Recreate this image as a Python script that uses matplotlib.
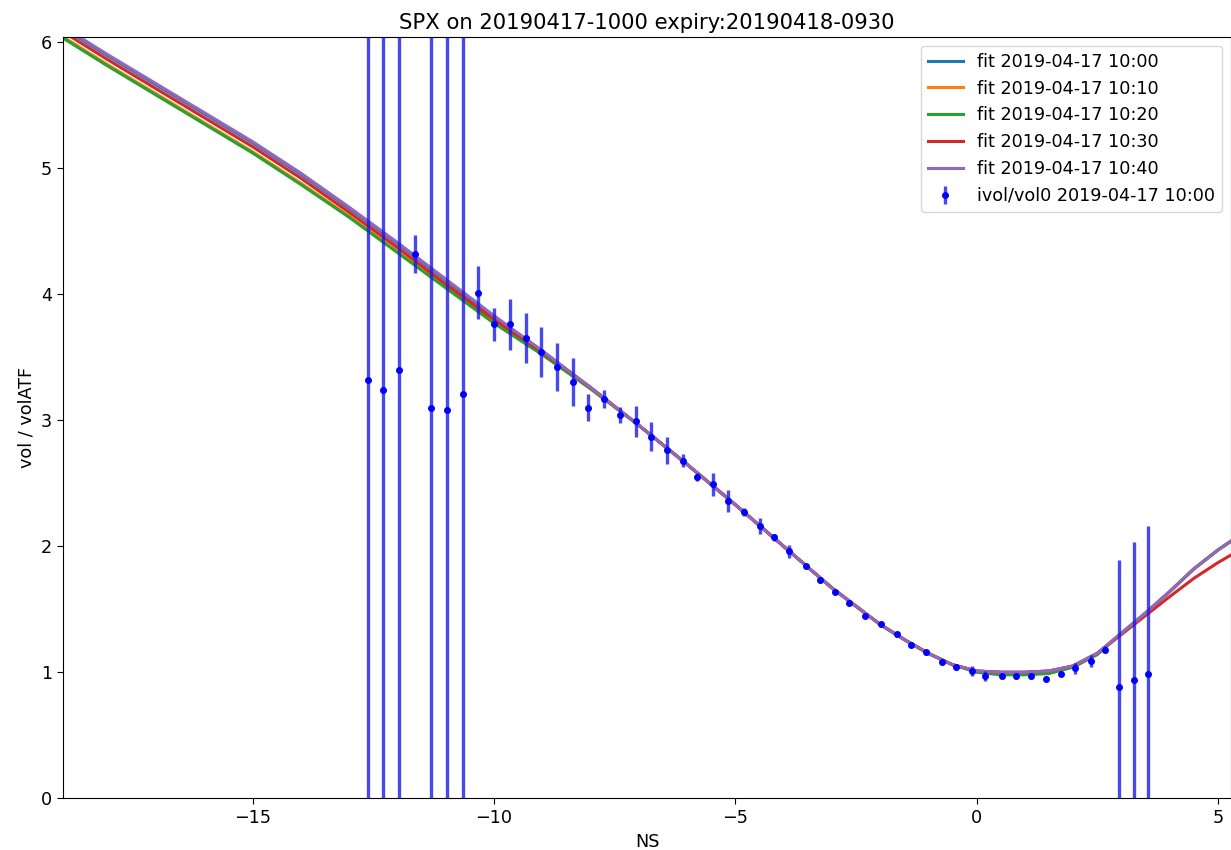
import matplotlib
matplotlib.use("Agg")
import matplotlib.pyplot as plt

# fit curves
fit_x = [-18.92, -18, -17, -16, -15, -14, -13, -12, -11, -10, -9, -8, -7, -6, -5, -4, -3, -2,
         -1.5, -1, -0.5, 0, 0.5, 1.0, 1.5, 2.0, 2.5, 3.0, 3.5, 4.0, 4.5, 5.0, 5.27]
fit_1000 = [6.11, 5.89, 5.66, 5.43, 5.20, 4.95, 4.68, 4.40, 4.11, 3.82, 3.55, 3.26, 2.96, 2.65, 2.33, 2.00, 1.67, 1.38,
            1.26, 1.15, 1.06, 1.01, 1.00, 1.00, 1.01, 1.05, 1.15, 1.31, 1.47, 1.64, 1.82, 1.97, 2.04]
fit_1010 = [6.04, 5.82, 5.59, 5.36, 5.13, 4.88, 4.62, 4.34, 4.06, 3.78, 3.53, 3.25, 2.96, 2.65, 2.33, 2.00, 1.67, 1.38,
            1.26, 1.15, 1.06, 1.01, 0.99, 0.99, 1.00, 1.05, 1.15, 1.31, 1.47, 1.64, 1.82, 1.97, 2.04]
fit_1020 = [6.03, 5.81, 5.58, 5.35, 5.12, 4.87, 4.61, 4.33, 4.05, 3.77, 3.52, 3.25, 2.96, 2.65, 2.33, 2.00, 1.67, 1.38,
            1.26, 1.15, 1.06, 1.00, 0.98, 0.98, 0.99, 1.04, 1.14, 1.31, 1.47, 1.64, 1.82, 1.97, 2.04]
fit_1030 = [6.08, 5.86, 5.63, 5.40, 5.17, 4.92, 4.65, 4.37, 4.08, 3.80, 3.54, 3.26, 2.96, 2.65, 2.33, 2.00, 1.67, 1.38,
            1.26, 1.15, 1.06, 1.01, 1.00, 1.00, 1.01, 1.05, 1.15, 1.30, 1.45, 1.60, 1.745, 1.87, 1.93]
fit_1040 = [6.12, 5.90, 5.67, 5.44, 5.21, 4.96, 4.69, 4.41, 4.12, 3.83, 3.55, 3.26, 2.96, 2.65, 2.33, 2.00, 1.67, 1.38,
            1.26, 1.15, 1.06, 1.01, 1.00, 1.00, 1.01, 1.05, 1.15, 1.31, 1.47, 1.64, 1.82, 1.97, 2.04]
fit_labels = ["fit 2019-04-17 10:00", "fit 2019-04-17 10:10", "fit 2019-04-17 10:20",
              "fit 2019-04-17 10:30", "fit 2019-04-17 10:40"]

# ivol/vol0 points with error half-widths
ns = [-12.61, -12.29, -11.97, -11.64, -11.31, -10.97, -10.64, -10.33, -10.00, -9.67,
      -9.34, -9.03, -8.69, -8.36, -8.05, -7.72, -7.39, -7.06, -6.75, -6.42,
      -6.08, -5.79, -5.46, -5.15, -4.82, -4.49, -4.20, -3.89, -3.54, -3.25,
      -2.94, -2.65, -2.31, -1.98, -1.65, -1.36, -1.05, -0.72, -0.43, -0.10,
      0.17, 0.52, 0.81, 1.12, 1.44, 1.75, 2.04, 2.37, 2.66, 2.95, 3.26, 3.55]
ivol = [3.32, 3.24, 3.40, 4.32, 3.10, 3.08, 3.21, 4.01, 3.76, 3.76,
        3.65, 3.54, 3.42, 3.30, 3.10, 3.17, 3.04, 2.99, 2.87, 2.76,
        2.68, 2.55, 2.49, 2.36, 2.27, 2.16, 2.07, 1.96, 1.84, 1.73,
        1.64, 1.55, 1.45, 1.38, 1.30, 1.22, 1.16, 1.08, 1.04, 1.01,
        0.97, 0.97, 0.97, 0.97, 0.95, 0.99, 1.03, 1.09, 1.18, 0.88, 0.94, 0.99]
ivol_err = [4.0, 4.0, 4.0, 0.15, 4.0, 4.0, 4.0, 0.21, 0.13, 0.20,
            0.20, 0.20, 0.19, 0.19, 0.11, 0.07, 0.065, 0.12, 0.115, 0.11,
            0.05, 0.03, 0.09, 0.085, 0.03, 0.06, 0.03, 0.05, 0.02, 0.02,
            0.02, 0.02, 0.02, 0.02, 0.02, 0.02, 0.02, 0.02, 0.02, 0.04,
            0.04, 0.02, 0.02, 0.02, 0.02, 0.02, 0.04, 0.05, 0.03, 1.01, 1.09, 1.17]

plt.rcParams["font.size"] = 12.7
plt.rcParams["xtick.major.size"] = 4.5
plt.rcParams["ytick.major.size"] = 4.5

fig = plt.figure(figsize=(12.31, 8.5), dpi=100)
ax = fig.add_axes([0.0514, 0.0608, 0.9486, 0.8957])

for ys, lab in zip([fit_1000, fit_1010, fit_1020, fit_1030, fit_1040], fit_labels):
    ax.plot(fit_x, ys, lw=2.2, label=lab)

ax.errorbar(ns, ivol, yerr=ivol_err, fmt=".", color="b", ecolor=(0.1, 0.1, 0.9, 0.8),
            elinewidth=2.4, markersize=8, label="ivol/vol0 2019-04-17 10:00")

ax.set_xlim(-18.92, 5.27)
ax.set_ylim(0, 6.04)
ax.set_xticks([-15, -10, -5, 0, 5])
ax.set_xlabel("NS")
ax.set_ylabel("vol / volATF")
ax.set_title("SPX on 20190417-1000 expiry:20190418-0930")
ax.legend(loc="upper right")

fig.savefig("out.png", dpi=100)
